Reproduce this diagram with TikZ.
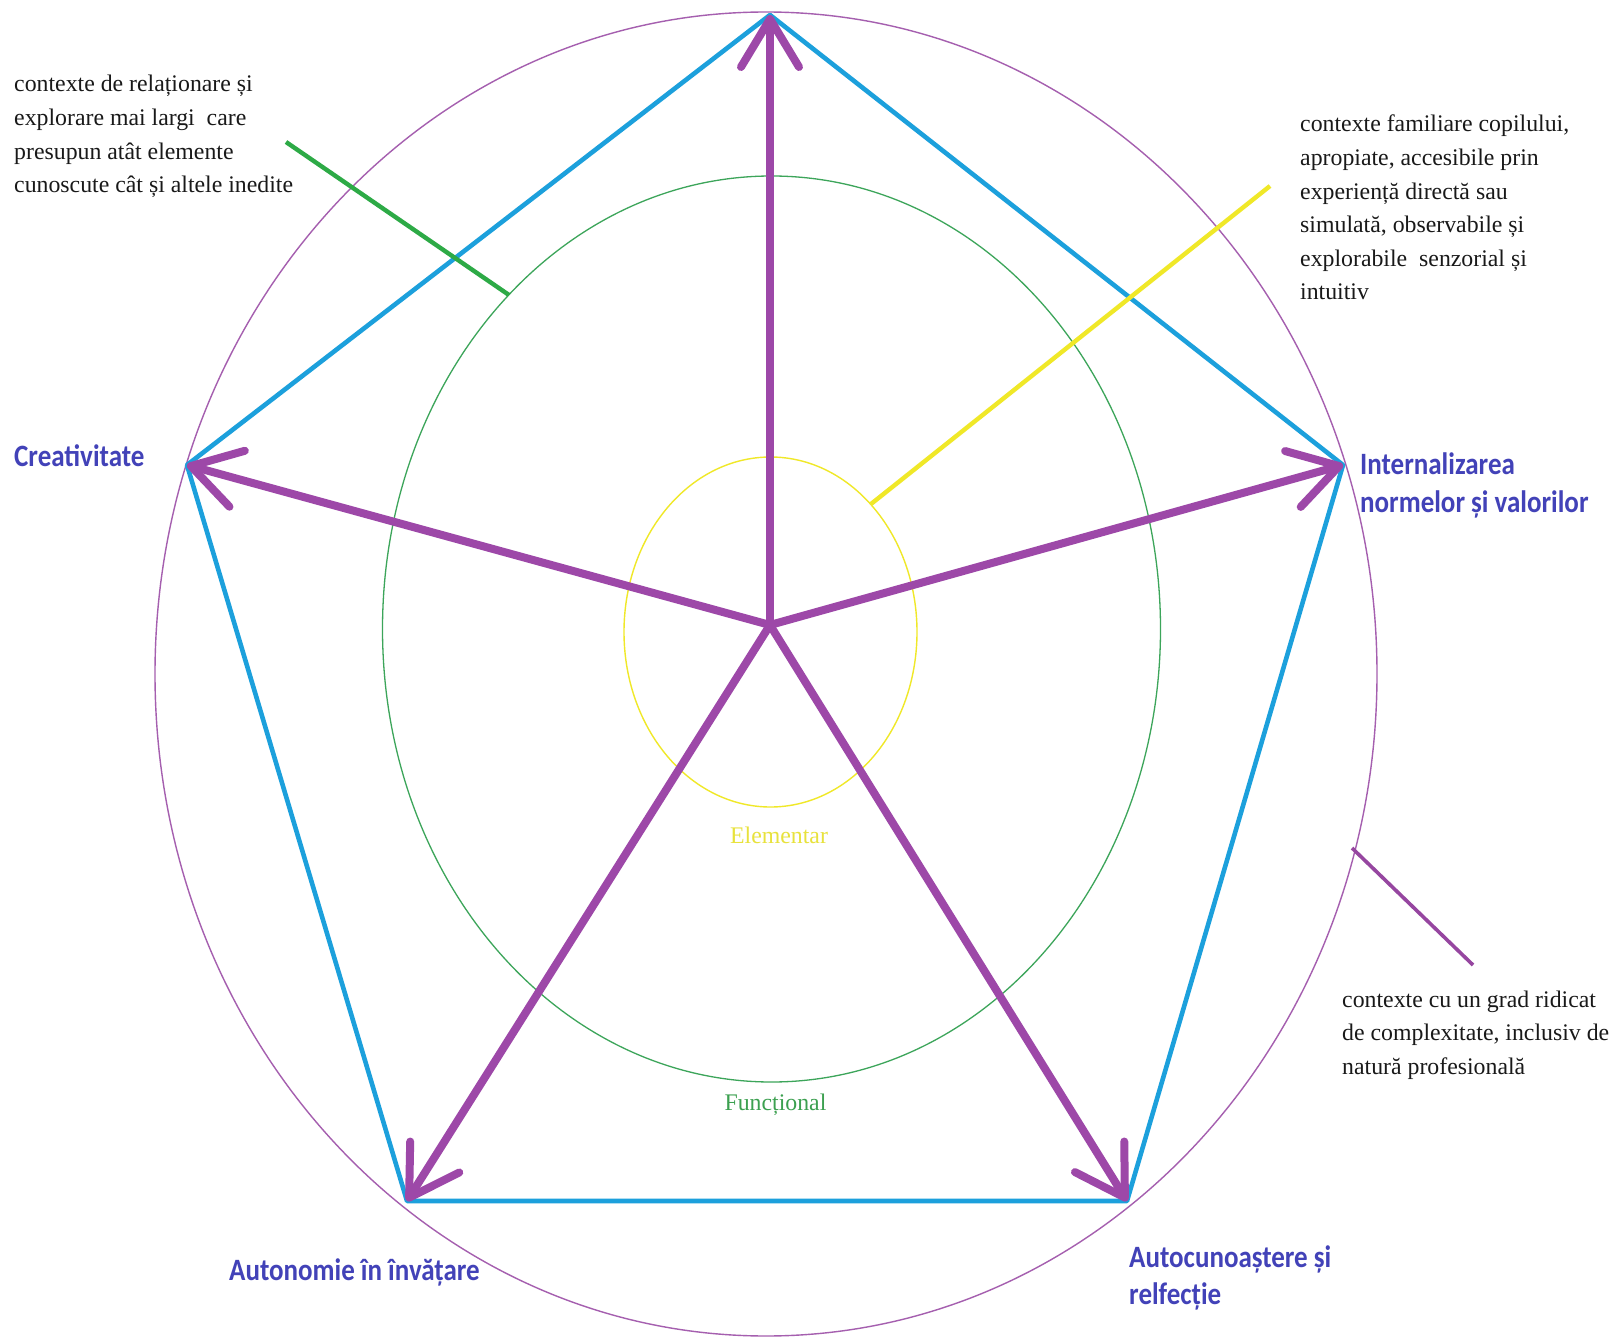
\documentclass[tikz,border=0pt]{standalone}
\usepackage{graphicx}
\usepackage{fontspec}
\setmainfont{Liberation Serif}
\newfontfamily\lblfont{Carlito}
\usetikzlibrary{arrows.meta}
\definecolor{penta}{RGB}{28,160,220}
\definecolor{arrowpurple}{RGB}{157,72,168}
\definecolor{outerpurple}{RGB}{165,95,175}
\definecolor{midgreen}{RGB}{60,165,90}
\definecolor{ptrgreen}{RGB}{45,170,70}
\definecolor{inneryellow}{RGB}{240,232,40}
\definecolor{ptrpurple}{RGB}{150,70,160}
\definecolor{lblblue}{RGB}{66,66,184}
\definecolor{anncol}{RGB}{25,25,25}
\definecolor{elemcol}{RGB}{232,226,60}
\definecolor{funccol}{RGB}{60,160,80}
\newcommand\anntab[1]{\begin{tabular}[t]{@{}l@{}}#1\end{tabular}}
\newcommand\lbltab[1]{\scalebox{1}[1.15]{\lblfont\bfseries\fontsize{27}{33}\selectfont\begin{tabular}[t]{@{}l@{}}#1\end{tabular}}}
\begin{document}
\begin{tikzpicture}[x=1pt,y=-1pt,
  edge/.style={draw=penta,line width=4.6pt,line join=round,line cap=round},
  spoke/.style={draw=arrowpurple,line width=8pt,line cap=round,
    -{Straight Barb[length=48pt 0 0,width=58pt 0 0,round]}},
  ann/.style={anchor=base west,inner sep=0pt,text=anncol,font=\fontsize{23.8}{33.6}\selectfont},
  lbl/.style={anchor=base west,inner sep=0pt,text=lblblue},
  level/.style={anchor=base,inner sep=0pt,font=\fontsize{23.8}{33.6}\selectfont},
  pointer/.style={line width=4.4pt,line cap=butt}]
\useasboundingbox[fill=white] (0,0) rectangle (1615,1337);

% context ellipses
\draw[outerpurple,line width=1.4pt] (766,674) ellipse [x radius=611pt,y radius=662pt];
\draw[midgreen,line width=1.3pt] (771.5,629) ellipse [x radius=389pt,y radius=453pt];
\draw[inneryellow,line width=1.4pt] (770.5,632) ellipse [x radius=146.5pt,y radius=175pt];

% vertices
\coordinate (C) at (770,625);
\coordinate (T) at (770,15);
\coordinate (R) at (1343,465);
\coordinate (BR) at (1127,1201);
\coordinate (BL) at (407,1201);
\coordinate (L) at (187,465);

% pentagon
\draw[edge] (T) -- (R) -- (BR) -- (BL) -- (L) -- cycle;

% spokes
\draw[spoke] (C) -- (T);
\draw[spoke] (C) -- (R);
\draw[spoke] (C) -- (BR);
\draw[spoke] (C) -- (BL);
\draw[spoke] (C) -- (L);

% annotations
\node[ann] (annTL) at (14,92) {\anntab{contexte de relaționare și\\explorare mai largi~ care\\presupun atât elemente\\cunoscute cât și altele inedite}};
\node[ann] (annTR) at (1300,132) {\anntab{contexte familiare copilului,\\apropiate, accesibile prin\\experiență directă sau\\simulată, observabile și\\explorabile~ senzorial și\\intuitiv}};
\node[ann] (annBR) at (1342,1007) {\anntab{contexte cu un grad ridicat\\de complexitate, inclusiv de\\natură profesională}};

% pointer lines
\coordinate (gp1) at (286,142);
\coordinate (gp2) at (509,295);
\coordinate (yp1) at (1270,186);
\coordinate (yp2) at (871,504);
\coordinate (pp1) at (1352,848);
\coordinate (pp2) at (1473,965);
\draw[pointer,ptrgreen] (gp1) -- (gp2);
\draw[pointer,inneryellow] (yp1) -- (yp2);
\draw[pointer,ptrpurple,line width=3.6pt] (pp1) -- (pp2);

% level labels
\node[level,text=elemcol] (elem) at (779,843) {Elementar};
\node[level,text=funccol] (func) at (775.5,1110) {Funcțional};

% competence labels
\node[lbl] (creat) at (14,467) {\lbltab{Creativitate}};
\node[lbl] (intern) at (1360,475) {\lbltab{Internalizarea\\normelor și valorilor}};
\node[lbl] (auton) at (229,1280) {\lbltab{Autonomie în învățare}};
\node[lbl] (autoc) at (1129,1267) {\lbltab{Autocunoaștere și\\relfecție}};
\end{tikzpicture}
\end{document}
